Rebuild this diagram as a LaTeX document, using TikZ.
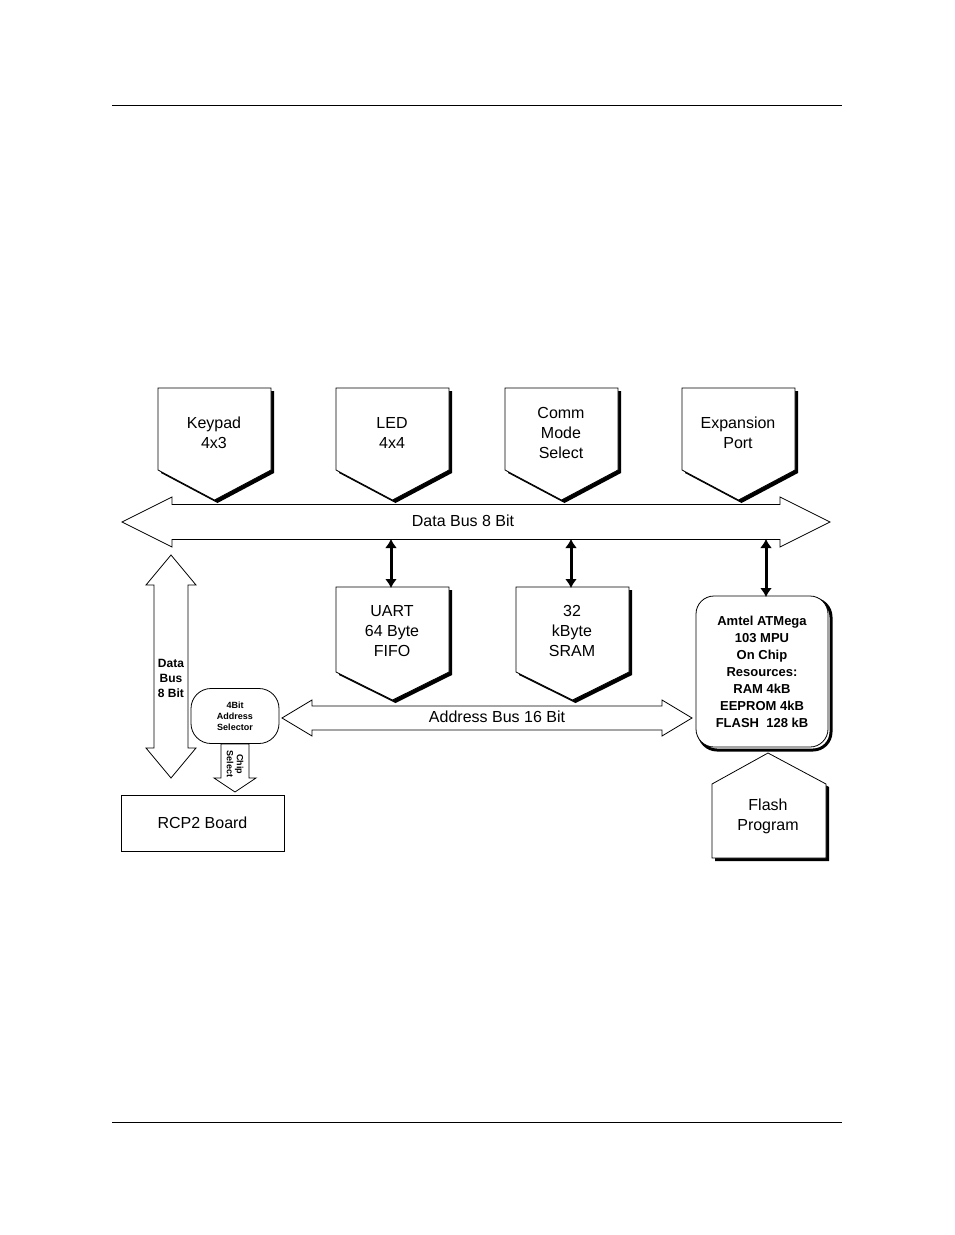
\documentclass[tikz,border=0pt]{standalone}
\usepackage{fontspec}
\setmainfont{Liberation Sans}
\usetikzlibrary{arrows.meta,positioning}

% horizontal double bus arrow: x1, x2, y, half shaft, half head, head length
\newcommand{\hbus}[6]{%
  \draw[fill=white] (#1,#3) -- (#1+#6,#3-#5) -- (#1+#6,#3-#4) -- (#2-#6,#3-#4)
    -- (#2-#6,#3-#5) -- (#2,#3) -- (#2-#6,#3+#5) -- (#2-#6,#3+#4)
    -- (#1+#6,#3+#4) -- (#1+#6,#3+#5) -- cycle;}
% vertical double bus arrow: y1, y2, x, half shaft, half head, head length
\newcommand{\vbus}[6]{%
  \draw[fill=white] (#3,#1) -- (#3-#5,#1+#6) -- (#3-#4,#1+#6) -- (#3-#4,#2-#6)
    -- (#3-#5,#2-#6) -- (#3,#2) -- (#3+#5,#2-#6) -- (#3+#4,#2-#6)
    -- (#3+#4,#1+#6) -- (#3+#5,#1+#6) -- cycle;}
% down pentagon with shadow: left x, right x, top y, shoulder y, tip y
\newcommand{\downbox}[5]{%
  \fill[black] ($(#1,#2)!0!(#1,#2)$) ++(3,3) ;%
  \fill[black,shift={(3,3)}] (#1,#3) -- (#2,#3) -- (#2,#4) -- ({(#1+#2)/2},#5) -- (#1,#4) -- cycle;
  \draw[fill=white] (#1,#3) -- (#2,#3) -- (#2,#4) -- ({(#1+#2)/2},#5) -- (#1,#4) -- cycle;}
\usetikzlibrary{calc}

\tikzset{
  lbl/.style={align=center,font=\fontsize{16}{20}\selectfont},
  dlink/.style={line width=3pt,{Latex[length=9pt,width=12pt]}-{Latex[length=9pt,width=12pt]},shorten <=-1pt,shorten >=-1pt}
}

\begin{document}
\begin{tikzpicture}[x=1pt,y=-1pt,line width=0.8pt]
  \useasboundingbox (0,0) rectangle (954,1235);
  \draw[line width=0.6pt] (112,105) -- (842,105);
  \draw[line width=0.6pt] (112,1122) -- (842,1122);

  % top peripherals
  \downbox{158}{271}{388}{470}{500}
  \downbox{336}{449}{388}{470}{500}
  \downbox{505}{618}{388}{470}{500}
  \downbox{682}{795}{388}{470}{500}
  \node[lbl] (keypad) at (214,433) {Keypad\\4x3};
  \node[lbl] (led) at (392,433) {LED\\4x4};
  \node[lbl] (comm) at (561,433) {Comm\\Mode\\Select};
  \node[lbl] (expport) at (738,433) {Expansion\\Port};

  % data bus
  \hbus{122}{830}{522}{17.5}{25}{50}
  \node[lbl] (databus) at (463,521) {Data Bus 8 Bit};
  \coordinate (dbU) at (391,540);
  \coordinate (dbS) at (571,540);
  \coordinate (dbM) at (766,540);

  % memory and uart
  \downbox{336}{449}{587}{672}{700}
  \downbox{516}{629}{587}{672}{700}
  \node[lbl] (uart) at (392,631) {UART\\64 Byte\\FIFO};
  \node[lbl] (sram) at (572,631) {32\\kByte\\SRAM};

  % mpu
  \draw[line width=3pt,rounded corners=18pt] (699,599) rectangle (831,750);
  \draw[fill=white,rounded corners=18pt] (696,596) rectangle (828,747);
  \node[align=center,font=\bfseries\fontsize{13}{17}\selectfont] (mpu) at (762,672)
    {Amtel ATMega\\103 MPU\\On Chip\\Resources:\\RAM 4kB\\EEPROM 4kB\\FLASH\ \ 128 kB};
  \coordinate (mpuT) at (766,596);

  \draw[dlink] (dbU) -- (391,587);
  \draw[dlink] (dbS) -- (571,587);
  \draw[dlink] (dbM) -- (mpuT);

  % flash program
  \fill[black,shift={(3,3)}] (712,784) -- (768,753) -- (826,784) -- (826,858) -- (712,858) -- cycle;
  \draw[fill=white] (712,784) -- (768,753) -- (826,784) -- (826,858) -- (712,858) -- cycle;
  \node[lbl] (flash) at (768,816) {Flash\\Program};

  % address bus
  \hbus{282}{692}{718}{12}{18}{30}
  \node[lbl] (addrbus) at (497,717) {Address Bus 16 Bit};

  % left side: data bus to board
  \vbus{555}{778}{171}{17}{25}{30}
  \node[align=center,font=\bfseries\fontsize{12}{15}\selectfont] (dbleft) at (171,678) {Data\\Bus\\8 Bit};
  \node[draw,fill=white,rounded corners=20pt,minimum width=88pt,minimum height=55pt,
    align=center,font=\bfseries\fontsize{9}{11}\selectfont] (selector) at (235,716)
    {4Bit\\Address\\Selector};
  \draw[fill=white] (221,744) -- (249,744) -- (249,778) -- (256,778) -- (235,792)
    -- (214,778) -- (221,778) -- cycle;
  \node[rotate=-90,align=center,font=\bfseries\fontsize{9}{10}\selectfont] (chipsel) at (235,764) {Chip\\Select};
  \node[draw,minimum width=163pt,minimum height=56pt,lbl] (rcp) at (202.5,823) {RCP2 Board};
\end{tikzpicture}
\end{document}
